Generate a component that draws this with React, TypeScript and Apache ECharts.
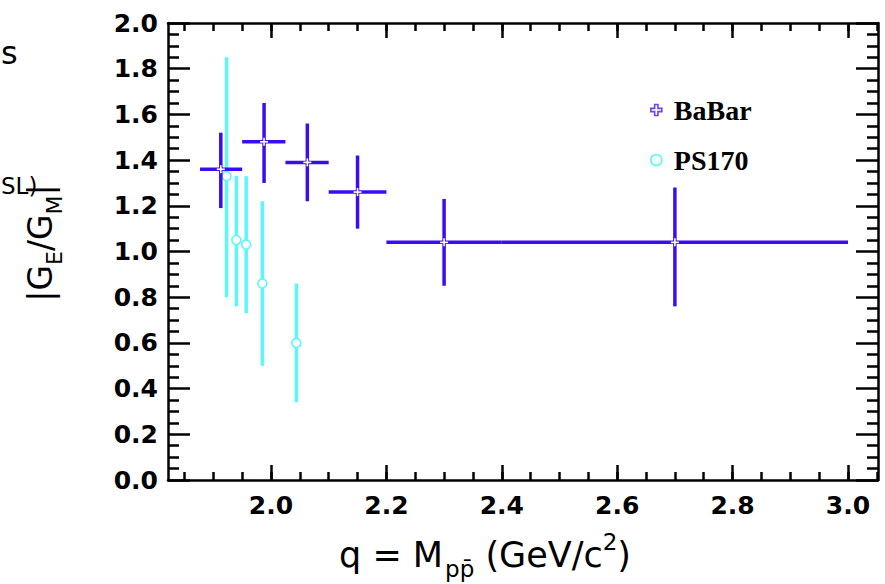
import React, { useEffect, useRef } from "react";
import * as echarts from "echarts";

// ---- data ----
const babarX = [1.913, 1.988, 2.063, 2.150, 2.300, 2.700];
const babarXLow = [1.877, 1.950, 2.025, 2.100, 2.200, 2.400];
const babarXHigh = [1.950, 2.025, 2.100, 2.200, 2.400, 3.000];
const babarY = [1.36, 1.48, 1.39, 1.26, 1.04, 1.04];
const babarYLow = [1.19, 1.30, 1.22, 1.10, 0.85, 0.76];
const babarYHigh = [1.52, 1.65, 1.56, 1.42, 1.23, 1.28];

const ps170X = [1.923, 1.940, 1.957, 1.985, 2.044];
const ps170Y = [1.33, 1.05, 1.03, 0.86, 0.60];
const ps170YLow = [0.80, 0.76, 0.73, 0.50, 0.34];
const ps170YHigh = [1.85, 1.33, 1.33, 1.22, 0.86];

const xMajorTicks = [2.0, 2.2, 2.4, 2.6, 2.8, 3.0];
const xMinorTicks = [
  1.85, 1.9, 1.95, 2.0, 2.05, 2.1, 2.15, 2.2, 2.25, 2.3, 2.35, 2.4, 2.45, 2.5,
  2.55, 2.6, 2.65, 2.7, 2.75, 2.8, 2.85, 2.9, 2.95, 3.0, 3.05,
];

const XMIN = 1.8215;
const XMAX = 3.052;
const YMIN = 0;
const YMAX = 2.0;

const BLUE = "#3a0cf2";
const CYAN = "#5ef7f7";
const FONT = "DejaVu Sans";

export default function App() {
  const ref = useRef<HTMLDivElement>(null);

  useEffect(() => {
    if (!ref.current) return;
    const chart = echarts.init(ref.current, undefined, { renderer: "svg" });

    const babarData = babarX.map((x, i) => [
      x,
      babarY[i],
      babarXLow[i],
      babarXHigh[i],
      babarYLow[i],
      babarYHigh[i],
    ]);
    const psData = ps170X.map((x, i) => [x, ps170Y[i], ps170YLow[i], ps170YHigh[i]]);

    const axisLine = { show: true, onZero: false, lineStyle: { color: "#000", width: 2.5 } };
    const noLine = { show: false, onZero: false };
    const baseX = { type: "value", min: XMIN, max: XMAX, splitLine: { show: false } };

    const titleRich = {
      a: { fontSize: 33, fontFamily: FONT, color: "#000", lineHeight: 50 },
      s: { fontSize: 22, fontFamily: FONT, color: "#000", lineHeight: 24, verticalAlign: "bottom" },
      u: { fontSize: 22, fontFamily: FONT, color: "#000", lineHeight: 24, verticalAlign: "top" },
    };
    const xTitleRich = {
      a: { fontSize: 35, fontFamily: FONT, color: "#000", lineHeight: 50 },
      s: { fontSize: 23, fontFamily: FONT, color: "#000", lineHeight: 24, verticalAlign: "bottom", padding: [0, 0, 0, 2] },
      u: { fontSize: 23, fontFamily: FONT, color: "#000", lineHeight: 24, verticalAlign: "top" },
    };

    const tickLabel = {
      fontSize: 25,
      fontFamily: FONT,
      fontWeight: "bold",
      color: "#000",
    };

    chart.setOption({
      animation: false,
      backgroundColor: "#ffffff",
      grid: { left: 168, top: 23, right: 7, bottom: 104, containLabel: false, outerBoundsMode: "none" },
      xAxis: [
        {
          ...baseX,
          position: "bottom",
          axisLine,
          axisTick: { show: true, inside: true, length: 15, customValues: xMajorTicks, lineStyle: { color: "#000", width: 2.5 } },
          axisLabel: {
            show: true,
            customValues: xMajorTicks,
            formatter: (v: number) => v.toFixed(1),
            ...tickLabel,
            margin: 13,
          },
        },
        {
          ...baseX,
          position: "bottom",
          axisLine: noLine,
          axisTick: { show: true, inside: true, length: 8, customValues: xMinorTicks, lineStyle: { color: "#000", width: 2.5 } },
          axisLabel: { show: false },
        },
        {
          ...baseX,
          position: "top",
          axisLine,
          axisTick: { show: true, inside: true, length: 15, customValues: xMajorTicks, lineStyle: { color: "#000", width: 2.5 } },
          axisLabel: { show: false },
        },
        {
          ...baseX,
          position: "top",
          axisLine: noLine,
          axisTick: { show: true, inside: true, length: 8, customValues: xMinorTicks, lineStyle: { color: "#000", width: 2.5 } },
          axisLabel: { show: false },
        },
      ],
      yAxis: [
        {
          type: "value",
          position: "left",
          min: YMIN,
          max: YMAX,
          interval: 0.2,
          splitLine: { show: false },
          axisLine,
          axisTick: { show: true, inside: true, length: 22, lineStyle: { color: "#000", width: 2.5 } },
          minorTick: { show: true, splitNumber: 4, length: 11, lineStyle: { color: "#000", width: 2.5 } },
          minorSplitLine: { show: false },
          axisLabel: {
            formatter: (v: number) => v.toFixed(1),
            ...tickLabel,
            margin: 10,
          },
        },
        {
          type: "value",
          position: "right",
          min: YMIN,
          max: YMAX,
          interval: 0.2,
          splitLine: { show: false },
          axisLine,
          axisTick: { show: true, inside: true, length: 22, lineStyle: { color: "#000", width: 2.5 } },
          minorTick: { show: true, splitNumber: 4, length: 11, lineStyle: { color: "#000", width: 2.5 } },
          minorSplitLine: { show: false },
          axisLabel: { show: false },
        },
      ],
      legend: {
        show: true,
        orient: "vertical",
        left: 650,
        top: 96,
        padding: 0,
        itemGap: 22,
        itemWidth: 11,
        itemHeight: 11,
        textStyle: {
          fontFamily: "Liberation Serif",
          fontWeight: "bold",
          fontSize: 28,
          color: "#000",
          padding: [0, 0, 0, 7],
        },
        data: [
          {
            name: "BaBar",
            icon: "path://M3.5,0 H6.5 V3.5 H10 V6.5 H6.5 V10 H3.5 V6.5 H0 V3.5 H3.5 Z",
            itemStyle: { color: "#ffffff", borderColor: "#6a45f2", borderWidth: 1.6 },
          },
          {
            name: "PS170",
            icon: "circle",
            itemStyle: { color: "#ffffff", borderColor: CYAN, borderWidth: 1.6 },
          },
        ],
      },
      series: [
        {
          name: "PS170",
          type: "custom",
          xAxisIndex: 0,
          yAxisIndex: 0,
          data: psData,
          encode: { x: 0, y: [1, 2, 3] },
          itemStyle: { color: CYAN },
          renderItem: (params: any, api: any) => {
            const x = api.value(0);
            const y = api.value(1);
            const c = api.coord([x, y]);
            const lo = api.coord([x, api.value(2)]);
            const hi = api.coord([x, api.value(3)]);
            return {
              type: "group",
              children: [
                { type: "line", shape: { x1: lo[0], y1: lo[1], x2: hi[0], y2: hi[1] }, style: { stroke: CYAN, lineWidth: 3.5 } },
                { type: "circle", shape: { cx: c[0], cy: c[1], r: 4.5 }, style: { fill: "#ffffff", stroke: CYAN, lineWidth: 1.6 } },
              ],
            };
          },
        },
        {
          name: "BaBar",
          type: "custom",
          xAxisIndex: 0,
          yAxisIndex: 0,
          data: babarData,
          encode: { x: [0, 2, 3], y: [1, 4, 5] },
          itemStyle: { color: BLUE },
          renderItem: (params: any, api: any) => {
            const x = api.value(0);
            const y = api.value(1);
            const c = api.coord([x, y]);
            const l = api.coord([api.value(2), y]);
            const r = api.coord([api.value(3), y]);
            const lo = api.coord([x, api.value(4)]);
            const hi = api.coord([x, api.value(5)]);
            return {
              type: "group",
              children: [
                { type: "line", shape: { x1: l[0], y1: l[1], x2: r[0], y2: r[1] }, style: { stroke: BLUE, lineWidth: 3.5 } },
                { type: "line", shape: { x1: lo[0], y1: lo[1], x2: hi[0], y2: hi[1] }, style: { stroke: BLUE, lineWidth: 3.5 } },
                { type: "line", shape: { x1: c[0] - 4, y1: c[1], x2: c[0] + 4, y2: c[1] }, style: { stroke: "#ffffff", lineWidth: 1.6 } },
                { type: "line", shape: { x1: c[0], y1: c[1] - 4, x2: c[0], y2: c[1] + 4 }, style: { stroke: "#ffffff", lineWidth: 1.6 } },
              ],
            };
          },
        },
      ],
      graphic: [
        {
          type: "text",
          x: 485,
          y: 555,
          style: {
            text: "{a|q = M}{s|pp̄}{a| (GeV/c}{u|2}{a|)}",
            rich: xTitleRich,
            align: "center",
            verticalAlign: "middle",
          },
        },
        {
          type: "text",
          x: 40,
          y: 243,
          rotation: Math.PI / 2,
          style: {
            text: "{a||G}{s|E}{a|/G}{s|M}{a||}",
            rich: titleRich,
            align: "center",
            verticalAlign: "middle",
          },
        },
        {
          type: "text",
          x: 1,
          y: 53,
          style: { text: "s", fontSize: 32, fontFamily: FONT, fill: "#000", align: "left", verticalAlign: "middle" },
        },
        {
          type: "text",
          x: 1,
          y: 186,
          style: { text: "SL)", fontSize: 23, fontFamily: FONT, fill: "#000", align: "left", verticalAlign: "middle" },
        },
      ],
    });

    return () => chart.dispose();
  }, []);

  return (
    <div
      ref={ref}
      style={{ position: "fixed", left: 0, top: 0, width: 885, height: 584, background: "#fff" }}
    />
  );
}
